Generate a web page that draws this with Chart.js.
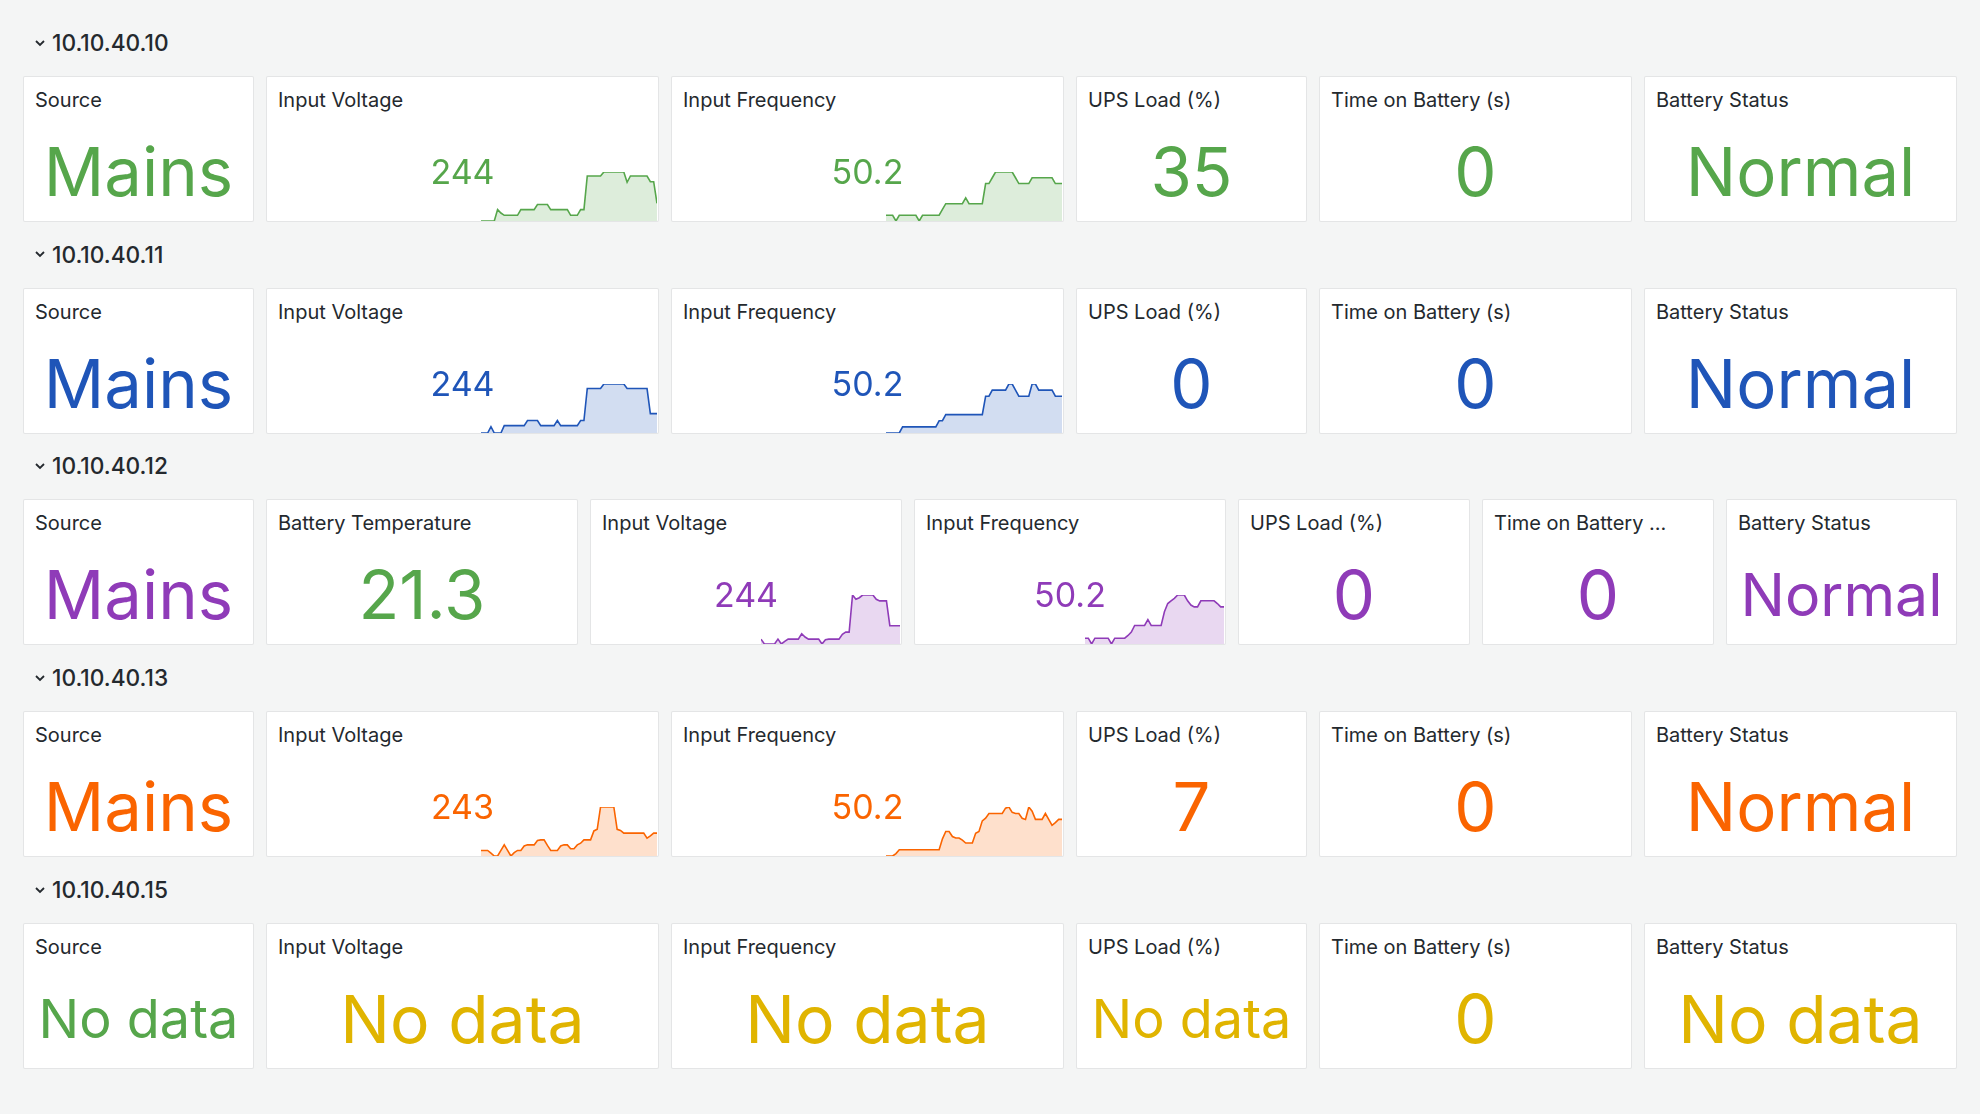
<!DOCTYPE html>
<html>
<head>
<meta charset="utf-8">
<title>UPS overview</title>
<script src="https://cdn.jsdelivr.net/npm/chart.js@4.4.1/dist/chart.umd.min.js"></script>
<style>
  html, body { margin: 0; padding: 0; }
  body {
    width: 1980px; height: 1114px; overflow: hidden;
    background: #f4f5f5;
    font-family: Inter, "Noto Sans", sans-serif;
    color: #24292e;
    position: relative;
  }
  .row-title {
    position: absolute; left: 34px; height: 30px; line-height: 30px;
    font-size: 22.7px; font-weight: 500; white-space: nowrap;
  }
  .row-title svg { vertical-align: middle; margin-right: 6px; position: relative; top: -2px; }
  .card {
    position: absolute; height: 146px; box-sizing: border-box;
    background: #fff; border: 1px solid rgba(36, 41, 46, 0.12); border-radius: 2px;
  }
  .title {
    position: absolute; left: 11px; top: 12px; height: 22px; line-height: 22px;
    font-size: 20px; font-weight: 400; white-space: nowrap;
  }
  .value {
    position: absolute; left: 0; right: 0; top: 45px; height: 100px; line-height: 100px;
    text-align: center; font-weight: 400; white-space: nowrap;
  }
  .card canvas { position: absolute; }
</style>
</head>
<body>
<script>
// hosts shown as dashboard rows
const hosts = ['10.10.40.10', '10.10.40.11', '10.10.40.12', '10.10.40.13', '10.10.40.15'];

// stat values per host (same order as hosts)
const sourceValues = ['Mains', 'Mains', 'Mains', 'Mains', 'No data'];
const voltageLabels = ['244', '244', '244', '243', 'No data'];
const frequencyLabels = ['50.2', '50.2', '50.2', '50.2', 'No data'];
const upsLoadValues = ['35', '0', '0', '7', 'No data'];
const timeOnBatteryValues = ['0', '0', '0', '0', '0'];
const batteryStatusValues = ['Normal', 'Normal', 'Normal', 'Normal', 'No data'];
const batteryTemperature = '21.3'; // only 10.10.40.12 reports it

// sparkline history, input voltage (V)
const voltage10 = [240, 240, 240, 240, 240, 242, 241.4, 241, 241, 241, 241, 241, 242, 242, 242, 242, 242,
  242.9, 242.9, 242.9, 242.9, 242, 242, 242, 242, 242, 242, 241, 241, 241, 242, 242,
  247.9, 247.9, 247.9, 247.9, 247.9, 248.6, 248.6, 248.6, 248.6, 248.6, 248.6, 248.6,
  246.8, 247.9, 247.9, 247.9, 247.9, 247.9, 247.9, 246.9, 246.9, 243.1];
const voltage11 = [240, 240, 240, 241.1, 240, 240, 240, 241.3, 241.3, 241.3, 241.3, 241.3, 241.3, 241.3,
  242.2, 242.2, 242.2, 242.2, 241.3, 241.3, 241.3, 241.3, 241.3, 242.2, 241.3, 241.3, 241.3, 241.3, 241.3, 241.3,
  242.2, 242.2, 247.8, 247.8, 247.8, 247.8, 247.8, 248.6, 248.6, 248.6, 248.6, 248.6, 248.6, 248.6,
  247.8, 247.8, 247.8, 247.8, 247.8, 247.8, 247.8, 243.4, 243.4, 243.4];
const voltage12 = [240.9, 240, 240, 240, 240, 240.9, 240, 240.5, 240.9, 240.9, 240.9, 240.9, 241.9, 241.3,
  240.9, 240.9, 240.9, 240.9, 240, 240.8, 240.9, 240.9, 240.9, 240.9, 241.8, 242.2, 242.2,
  249.1, 248.3, 248.6, 249.1, 249.1, 249.1, 249.1, 248.3, 248, 248, 248, 243.4, 243.4, 243.4, 243.4];
const voltage13 = [241, 241, 241, 240.5, 240, 240, 241, 242, 241, 240, 240.6, 241, 241, 241.8, 242, 242, 242,
  242.8, 242.9, 242.9, 241.9, 241, 241, 241, 241.8, 242, 242, 241.3, 241.3, 242, 242.3, 242.9, 242.9, 242.9,
  244.5, 244.8, 248.8, 248.8, 248.8, 248.8, 248.8, 244.8, 244.6, 244.1, 244.1, 244.1, 244.1, 244.1, 244.1, 244.1,
  243.2, 243.6, 244.1, 244.1];

// sparkline history, input frequency (Hz)
const frequency10 = [50.12, 50.12, 50.12, 50.10, 50.12, 50.12, 50.12, 50.12, 50.12, 50.12, 50.10,
  50.12, 50.12, 50.12, 50.12, 50.12, 50.12, 50.14, 50.16, 50.16, 50.16, 50.16, 50.16, 50.16, 50.18,
  50.16, 50.16, 50.16, 50.16, 50.16, 50.23, 50.23, 50.25, 50.27, 50.27, 50.27, 50.27, 50.27, 50.27,
  50.25, 50.23, 50.23, 50.23, 50.23, 50.25, 50.25, 50.25, 50.25, 50.25, 50.25, 50.25, 50.23, 50.23, 50.23];
const frequency11 = [50.10, 50.10, 50.10, 50.10, 50.10, 50.12, 50.12, 50.12, 50.12, 50.12, 50.12, 50.12,
  50.12, 50.12, 50.12, 50.12, 50.14, 50.14, 50.16, 50.16, 50.16, 50.16, 50.16, 50.16, 50.16, 50.16, 50.16,
  50.16, 50.16, 50.16, 50.22, 50.22, 50.24, 50.24, 50.24, 50.24, 50.24, 50.26, 50.26, 50.24, 50.22, 50.22,
  50.22, 50.22, 50.26, 50.26, 50.24, 50.24, 50.24, 50.24, 50.24, 50.22, 50.22, 50.22];
const frequency12 = [50.119, 50.119, 50.100, 50.119, 50.119, 50.119, 50.119, 50.119, 50.100, 50.119, 50.119,
  50.119, 50.119, 50.128, 50.139, 50.161, 50.161, 50.161, 50.161, 50.180, 50.161, 50.161, 50.161, 50.161,
  50.206, 50.233, 50.242, 50.250, 50.261, 50.261, 50.261, 50.242, 50.228, 50.222, 50.222, 50.242, 50.242,
  50.242, 50.242, 50.242, 50.233, 50.222, 50.222];
const frequency13 = [50.100, 50.100, 50.100, 50.108, 50.121, 50.121, 50.121, 50.121, 50.121, 50.121, 50.121,
  50.121, 50.121, 50.121, 50.121, 50.121, 50.121, 50.158, 50.183, 50.183, 50.166, 50.161, 50.161, 50.154,
  50.144, 50.144, 50.144, 50.177, 50.183, 50.219, 50.228, 50.244, 50.244, 50.244, 50.244, 50.244, 50.262,
  50.266, 50.248, 50.244, 50.244, 50.228, 50.224, 50.266, 50.252, 50.224, 50.224, 50.224, 50.244, 50.224,
  50.204, 50.213, 50.224, 50.224];

const voltageSeries = [voltage10, voltage11, voltage12, voltage13, null];
const frequencySeries = [frequency10, frequency11, frequency12, frequency13, null];

// colours
const hostColors = ['#56a64b', '#1f55b8', '#8f3bb8', '#fa6400', '#e0b400'];
const hostFills = ['rgba(86,166,75,0.2)', 'rgba(31,85,184,0.2)', 'rgba(143,59,184,0.2)',
  'rgba(250,100,0,0.2)', 'rgba(224,180,0,0.2)'];
const green = '#56a64b';

// panel geometry: [left, width]
const standardCols = [[23, 231], [266, 393], [671, 393], [1076, 231], [1319, 313], [1644, 313]];
const tempCols = [[23, 231], [266, 312], [590, 312], [914, 312], [1238, 232], [1482, 232], [1726, 231]];
const rowStep = 211.7;
const firstCardTop = 76;

const chevron = '<svg width="12" height="8" viewBox="0 0 12 8"><polyline points="2,2 6,6 10,2" ' +
  'fill="none" stroke="#24292e" stroke-width="1.8"/></svg>';

function addCard(top, col, title, value, color, size, series, fill) {
  const card = document.createElement('div');
  card.className = 'card';
  card.style.left = col[0] + 'px';
  card.style.top = top + 'px';
  card.style.width = col[1] + 'px';
  document.body.appendChild(card);

  if (series) {
    const canvas = document.createElement('canvas');
    const left = Math.round(col[1] * 0.547) - 1;
    const w = col[1] - left - 3;
    canvas.width = w; canvas.height = 51;
    canvas.style.left = left + 'px';
    canvas.style.top = '93px';
    canvas.style.width = w + 'px';
    canvas.style.height = '51px';
    card.appendChild(canvas);
    new Chart(canvas, {
      type: 'line',
      data: {
        labels: series.map((_, i) => i),
        datasets: [{
          data: series,
          borderColor: color,
          borderWidth: 1.6,
          backgroundColor: fill,
          fill: 'start',
          pointRadius: 0,
          tension: 0
        }]
      },
      options: {
        responsive: false,
        animation: false,
        events: [],
        layout: { autoPadding: false, padding: { top: 2, bottom: 0, left: 0, right: 0 } },
        plugins: { legend: { display: false }, tooltip: { enabled: false } },
        scales: {
          x: { display: false },
          y: { display: false, min: Math.min(...series), max: Math.max(...series) }
        }
      }
    });
  }

  const t = document.createElement('div');
  t.className = 'title';
  t.textContent = title;
  card.appendChild(t);

  const v = document.createElement('div');
  v.className = 'value';
  v.textContent = value;
  v.style.color = color;
  v.style.fontSize = size + 'px';
  card.appendChild(v);
}

hosts.forEach((host, r) => {
  const top = firstCardTop + rowStep * r;
  const head = document.createElement('div');
  head.className = 'row-title';
  head.style.top = (top - 48) + 'px';
  head.innerHTML = chevron + host;
  document.body.appendChild(head);

  const color = hostColors[r];
  const fill = hostFills[r];
  const noData = r === 4;
  const big = 67;
  const sparkSize = 34;

  if (r === 2) {
    const c = tempCols;
    addCard(top, c[0], 'Source', sourceValues[r], color, big);
    addCard(top, c[1], 'Battery Temperature', batteryTemperature, green, big);
    addCard(top, c[2], 'Input Voltage', voltageLabels[r], color, sparkSize, voltageSeries[r], fill);
    addCard(top, c[3], 'Input Frequency', frequencyLabels[r], color, sparkSize, frequencySeries[r], fill);
    addCard(top, c[4], 'UPS Load (%)', upsLoadValues[r], color, big);
    addCard(top, c[5], 'Time on Battery ...', timeOnBatteryValues[r], color, big);
    addCard(top, c[6], 'Battery Status', batteryStatusValues[r], color, 59);
  } else {
    const c = standardCols;
    addCard(top, c[0], 'Source', sourceValues[r], noData ? green : color, noData ? 54 : big);
    addCard(top, c[1], 'Input Voltage', voltageLabels[r], color, noData ? 66 : sparkSize, voltageSeries[r], fill);
    addCard(top, c[2], 'Input Frequency', frequencyLabels[r], color, noData ? 66 : sparkSize, frequencySeries[r], fill);
    addCard(top, c[3], 'UPS Load (%)', upsLoadValues[r], color, noData ? 54 : big);
    addCard(top, c[4], 'Time on Battery (s)', timeOnBatteryValues[r], color, big);
    addCard(top, c[5], 'Battery Status', batteryStatusValues[r], color, noData ? 66 : big);
  }
});
</script>
</body>
</html>
